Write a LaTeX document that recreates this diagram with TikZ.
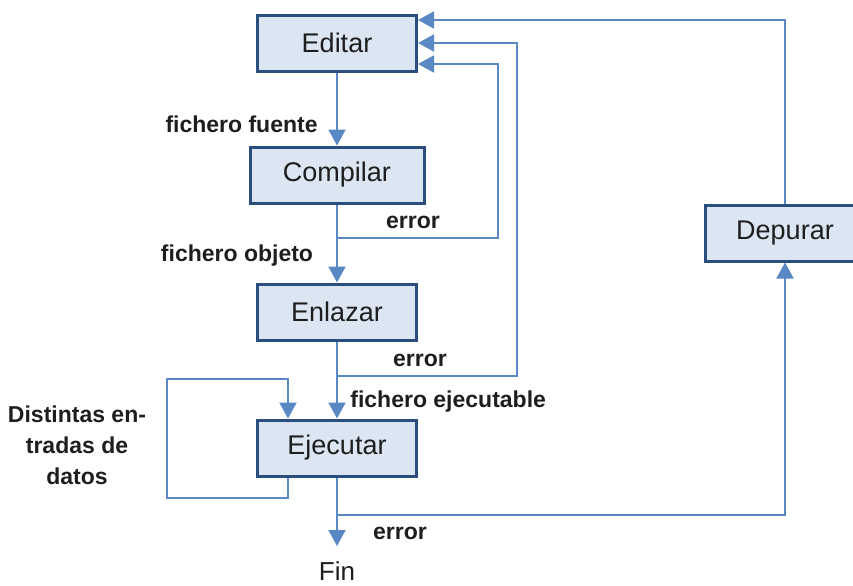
\documentclass[tikz,border=0pt]{standalone}
\usepackage{fontspec}
\setmainfont{Liberation Sans}
\usetikzlibrary{arrows.meta}
\definecolor{boxfill}{HTML}{DCE6F2}
\definecolor{boxline}{HTML}{2A4F7E}
\definecolor{connline}{HTML}{5A88C4}
\definecolor{txt}{HTML}{1E1E1E}
\tikzset{
  stepbox/.style={draw=boxline, line width=1.5pt, fill=boxfill, inner sep=0pt,
    minimum height=28pt, text=txt, font=\fontsize{13.5}{16}\selectfont},
  conn/.style={draw=connline, line width=1pt},
  arr/.style={conn, -{Triangle[length=8pt,width=8.5pt]}},
  lbl/.style={text=txt, font=\fontsize{11.5}{14}\selectfont\bfseries, inner sep=0pt}
}
\begin{document}
\begin{tikzpicture}[x=0.5pt, y=-0.5pt]
\useasboundingbox (0,0) rectangle (853,585);

% process boxes
\node[stepbox, minimum width=79.5pt] (ed) at (337,43) {Editar};
\node[stepbox, minimum width=87pt]   (co) at (337,175) {Compilar};
\node[stepbox, minimum width=79.5pt] (en) at (337,312) {Enlazar};
\node[stepbox, minimum width=79.5pt] (ej) at (337,448) {Ejecutar};
\node[stepbox, minimum width=80pt]   (de) at (785,233) {Depurar};
\node[text=txt, font=\fontsize{13}{15}\selectfont, inner sep=0pt, anchor=north] (fin) at (337,561) {Fin};

% branch points
\coordinate (b1) at (337,238);
\coordinate (b2) at (337,376);
\coordinate (b3) at (337,515);

% main flow
\draw[arr] (ed.south) -- (co.north);
\draw[arr] (co.south) -- (en.north);
\draw[arr] (en.south) -- (ej.north);
\draw[arr, shorten >=7.5pt] (ej.south) -- (fin.north);

% error returns to Editar
\draw[arr] (b1) -- (498,238) -- (498,64) -- (ed.east |- 0,64);
\draw[arr] (b2) -- (517,376) -- (517,43) -- (ed.east |- 0,43);
\draw[arr] (de.north) -- (785,20) -- (ed.east |- 0,20);
\draw[arr] (b3) -- (785,515) -- (de.south);

% repeated runs with different data
\draw[arr] (ej.south -| 288,0) -- (288,498) -- (167,498) -- (167,379) -- (288,379) -- (ej.north -| 288,0);

% labels
\node[lbl, anchor=east] (l1) at (318,124) {fichero fuente};
\node[lbl] (l2) at (413,222) {error};
\node[lbl] (l3) at (237,256) {fichero objeto};
\node[lbl] (l4) at (420,360) {error};
\node[lbl, anchor=west] (l5) at (350,402) {fichero ejecutable};
\node[lbl] (l6) at (400,533) {error};
\node[lbl, align=center, font=\fontsize{11.5}{15.5}\selectfont\bfseries] (l7) at (77,445) {Distintas en-\\tradas de\\datos};
\end{tikzpicture}
\end{document}
